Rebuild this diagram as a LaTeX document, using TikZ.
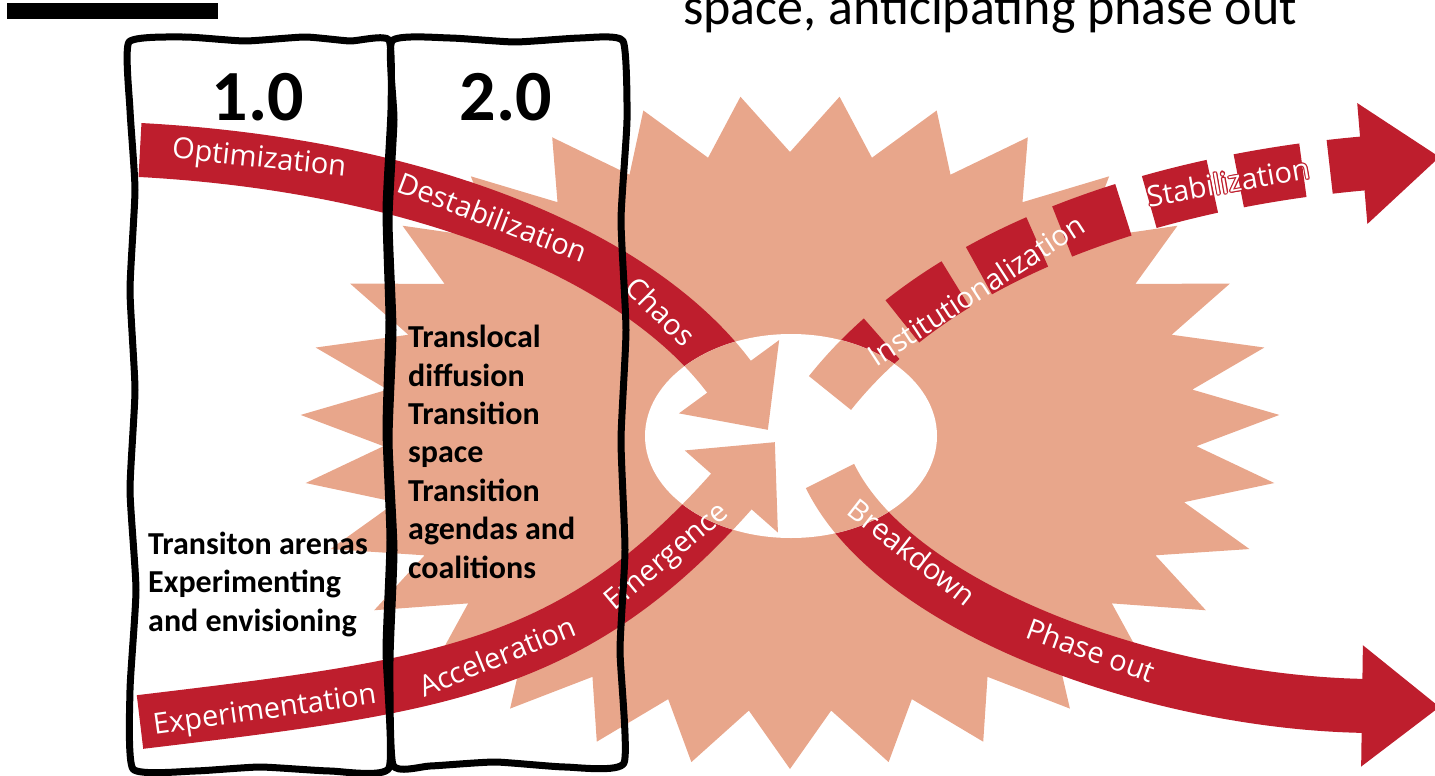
\documentclass[tikz,border=0pt]{standalone}
\usepackage{fontspec}
\usepackage{tikz}
\usetikzlibrary{arrows.meta}
\setmainfont{Carlito}
\newfontfamily\bandfont{Open Sans}

\definecolor{burst}{RGB}{232,166,139}
\definecolor{bandred}{RGB}{190,30,45}

\newcommand{\pathChaos}{(140,150) .. controls (420,165) and (640,255) .. (768,430)}
\newcommand{\pathEmerge}{(140,722) .. controls (440,686) and (574,670) .. (775,442)}
\newcommand{\pathStable}{(830,393) .. controls (954,237) and (1190,178) .. (1440,157)}
\newcommand{\pathPhase}{(830,476) .. controls (896,611) and (1160,703) .. (1440,707)}

\begin{document}
\begin{tikzpicture}[x=1pt,y=-1pt,
  band/.style={line width=54pt},
  lefthead/.style={-{Triangle[width=120pt,length=66pt]}},
  righthead/.style={-{Triangle[width=116pt,length=78pt]}},
  bandtext/.style={text=white,font=\bandfont\fontsize{29}{29}\selectfont,inner sep=0pt},
  boxtext/.style={font=\bfseries\fontsize{32}{38.4}\selectfont,align=left,anchor=base west,inner sep=0pt},
  frame/.style={line width=7pt,line join=round}]
\useasboundingbox (0,0) rectangle (1435,776);
\clip (0,0) rectangle (1435,776);

\begin{scope}[shift={(790,432)}]
\fill[burst] (90:490 and 337)
  \foreach \k in {1,...,31}{ -- ({90+(\k-0.5)*360/31}:407 and 280) -- ({90+\k*360/31}:490 and 337)} -- cycle;
\end{scope}

\draw[band,bandred,lefthead] \pathChaos;
\draw[band,bandred,lefthead] \pathEmerge;
\draw[band,bandred,righthead,dash pattern=on 65pt off 27pt,dash phase=82pt] \pathStable;
\draw[band,bandred,righthead] \pathPhase;

\coordinate (hole) at (791,436);
\fill[white] (hole) ellipse [x radius=146pt,y radius=102pt];
\begin{scope}
\clip (hole) ellipse [x radius=146pt,y radius=102pt];
\draw[band,burst,lefthead] \pathChaos;
\draw[band,burst,lefthead] \pathEmerge;
\draw[band,burst,righthead] \pathStable;
\draw[band,burst,righthead] \pathPhase;
\end{scope}

\node[bandtext,rotate=-6] (optim) at (259,160) {Optimization};
\node[bandtext,rotate=-21] (destab) at (493,217) {Destabilization};
\node[bandtext,rotate=-45] (chaos) at (661,311) {Chaos};
\node[bandtext,rotate=8] (experi) at (265,712) {Experimentation};
\node[bandtext,rotate=22] (accel) at (497,656) {Acceleration};
\node[bandtext,rotate=40] (emerg) at (668,558) {Emergence};
\node[bandtext,rotate=33] (instit) at (976,290) {Institutionalization};
\foreach \dx/\dy [count=\i] in {1.2/0,-1.2/0,0/1.2,0/-1.2,0.85/0.85,-0.85/0.85,0.85/-0.85,-0.85/-0.85}
  \node[bandtext,text=bandred,rotate=10,xshift=\dx pt,yshift=\dy pt] (stabrim\i) at (1228,182) {Stabilization};
\node[bandtext,rotate=10] (stabil) at (1228,182) {Stabilization};
\node[bandtext,rotate=-38] (breakd) at (912,552) {Breakdown};
\node[bandtext,rotate=-20] (phase) at (1091,650) {Phase out};

\fill (7,3) rectangle (218,19);
\node[font=\fontsize{52}{52}\selectfont,anchor=base west,inner sep=0pt] (anticip) at (683,25) {space, anticipating phase out};

\draw[frame] plot[smooth cycle,tension=0.3] coordinates {(129,42) (185,37) (245,41) (305,37) (350,41) (389,40) (391,110) (386,210) (389,320) (386,430) (390,540) (386,650) (389,768) (330,771) (260,767) (195,771) (133,769) (130,690) (136,590) (130,490) (135,390) (130,290) (135,190) (130,110)};
\draw[frame] plot[smooth cycle,tension=0.3] coordinates {(392,41) (450,38) (515,42) (580,38) (623,41) (627,120) (621,220) (626,330) (621,440) (625,550) (620,650) (624,763) (565,767) (495,762) (430,766) (393,765) (390,660) (394,550) (389,440) (393,330) (389,220) (394,120)};

\node[font=\bfseries\fontsize{72}{72}\selectfont,anchor=base,inner sep=0pt] (gen1) at (258,121) {1.0};
\node[font=\bfseries\fontsize{72}{72}\selectfont,anchor=base,inner sep=0pt] (gen2) at (506,121) {2.0};

\node[boxtext] (arenas) at (148,631) {Transiton arenas\\Experimenting\\and envisioning};
\node[boxtext] (diffusion) at (408,578) {Translocal\\diffusion\\Transition\\space\\Transition\\agendas and\\coalitions};
\end{tikzpicture}
\end{document}
